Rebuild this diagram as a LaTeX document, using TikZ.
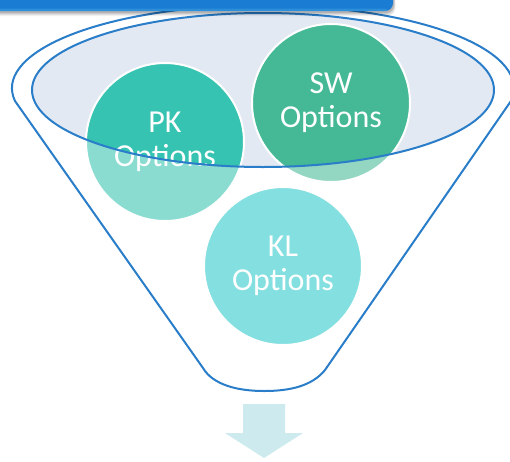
\documentclass[tikz,border=0pt]{standalone}
\usepackage{fontspec}
\setmainfont{Carlito}
\definecolor{rim}{HTML}{2A7DC8}
\definecolor{innerfill}{HTML}{E3E9F3}
\definecolor{pkcol}{HTML}{36C3B1}
\definecolor{swcol}{HTML}{45B995}
\definecolor{klcol}{HTML}{2AC8CB}
\definecolor{arrowcol}{HTML}{CDEBEE}
\definecolor{bannertop}{HTML}{1A7CD2}
\definecolor{bannerbot}{HTML}{3A9AE0}
\tikzset{
  bubble/.style={circle, minimum size=158pt, inner sep=0pt, draw=white, line width=2pt,
    text=white, align=center, font=\fontsize{32}{34}\selectfont},
  rimline/.style={draw=rim, line width=2pt},
}
\begin{document}
\begin{tikzpicture}[x=1pt,y=-1pt]
\useasboundingbox (0,0) rectangle (510,461);
% inner ellipse fill
\fill[innerfill] (263,90) ellipse[x radius=231, y radius=77];
% option bubbles
\node[bubble, fill=pkcol] (pk) at (165,142) {PK\\Options};
\node[bubble, fill=swcol] (sw) at (331,103) {SW\\Options};
\node[bubble, fill=klcol] (kl) at (283,266) {KL\\Options};
% translucent funnel body
\fill[white, fill opacity=0.42, even odd rule]
  (15,101) arc[start angle=171.1, end angle=368.9, x radius=251, y radius=83]
  -- (325,370) .. controls (312,386) and (290,391) .. (264,391)
  .. controls (238,391) and (213,385) .. (203,368) -- cycle
  (263,90) ellipse[x radius=231, y radius=77];
% outlines
\draw[rimline, line join=round]
  (15,101) arc[start angle=171.1, end angle=368.9, x radius=251, y radius=83]
  -- (325,370) .. controls (312,386) and (290,391) .. (264,391)
  .. controls (238,391) and (213,385) .. (203,368) -- cycle;
\draw[rimline] (263,90) ellipse[x radius=231, y radius=77];
% banner shadow
\foreach \o/\a in {5/0.05,4/0.07,3/0.09,2/0.12}{
  \fill[black, opacity=\a, rounded corners=8pt] (-10,-20) rectangle (393+\o*0.5,11+\o);
}
% banner
\fill[bannertop, rounded corners=8pt] (-10,-20) rectangle (393,11);
\fill[bannerbot, opacity=0.6] (0,8.5) -- (386,8.5) -- (388,10.8) -- (0,10.8) -- cycle;
% output arrow
\fill[arrowcol] (243,404) -- (285,404) -- (285,433) -- (303,433) -- (264,458)
  -- (225,433) -- (243,433) -- cycle;
\end{tikzpicture}
\end{document}
